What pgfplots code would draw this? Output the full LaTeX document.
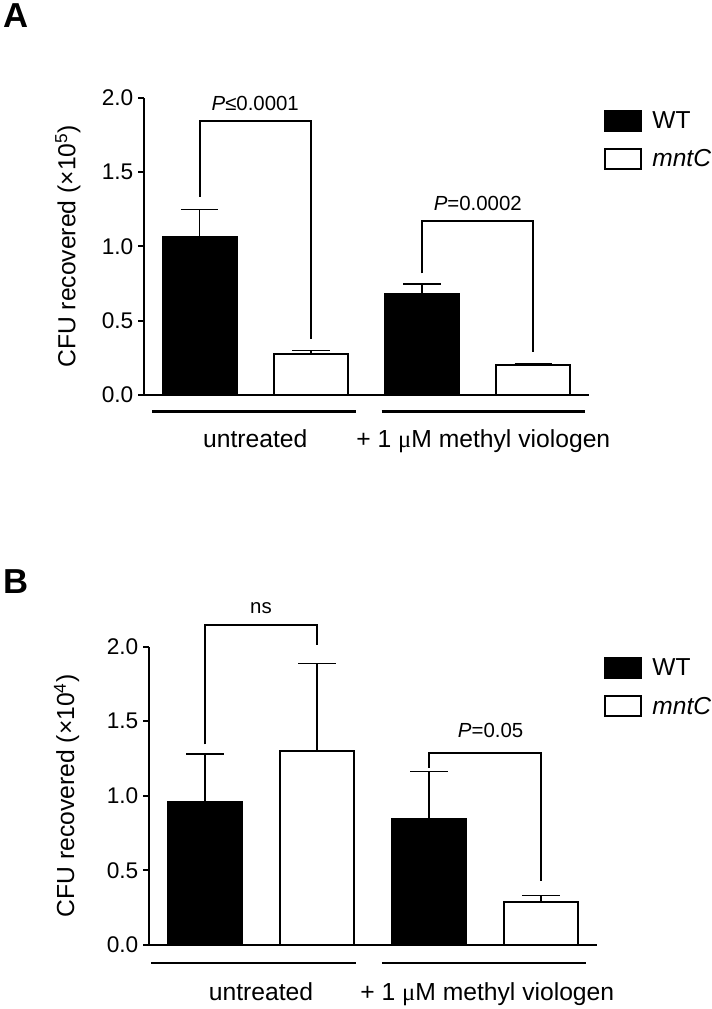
\documentclass[border=0pt]{standalone}
\usepackage{fontspec}
\setmainfont{Liberation Sans}
\newfontfamily\serifmu{Liberation Serif}
\usepackage{pgfplots}
\usepackage{pgfplotstable}
\pgfplotsset{compat=1.18}

\pgfplotstableread{
x y e
1 1.065 0.184
3 0.677 0.069
}\AWT
\pgfplotstableread{
x y e
2 0.276 0.022
4 0.200 0.013
}\AmntC
\pgfplotstableread{
x y e
1 0.956 0.324
3 0.845 0.317
}\BWT
\pgfplotstableread{
x y e
2 1.300 0.588
4 0.290 0.040
}\BmntC

\pgfplotsset{
  panel/.style={
    scale only axis,
    axis x line=bottom, axis y line=left,
    axis line style={-, line width=1.5pt},
    xmin=0.5, xmax=4.5, ymin=0, ymax=2,
    xtick=\empty,
    ytick={0,0.5,1,1.5,2},
    /pgf/number format/fixed, /pgf/number format/fixed zerofill,
    /pgf/number format/precision=1, /pgf/number format/assume math mode=true,
    yticklabel style={font=\fontsize{17}{20}\selectfont},
    tick align=outside, major tick length=4.5pt,
    every tick/.style={black, line width=1.5pt},
    clip=false,
    ybar, bar width=55.5pt,
    legend cell align=left,
    legend image code/.code={\draw[#1, line width=1.5pt] (0pt,-7.5pt) rectangle (27pt,7.5pt);},
    legend style={draw=none, fill=none, anchor=north west, inner sep=0pt,
      font=\fontsize{18.4}{22}\selectfont, row sep=12pt, column sep=7.5pt,
      nodes={inner sep=0pt}},
  },
  wt/.style={fill=black, draw=black, line width=1.5pt, bar shift=0pt,
    error bars/.cd, y dir=plus, y explicit,
    error bar style={line width=1pt, black},
    error mark options={rotate=90, line width=1pt, mark size=14pt, black}},
  mt/.style={fill=white, draw=black, line width=1.5pt, bar shift=0pt,
    error bars/.cd, y dir=plus, y explicit,
    error bar style={line width=1pt, black},
    error mark options={rotate=90, line width=1pt, mark size=14pt, black}},
}

\begin{document}
\begin{tikzpicture}
\useasboundingbox (0,0) rectangle (711*0.75pt,-1009*0.75pt);
\node[anchor=base west, font=\bfseries\fontsize{26}{30}\selectfont, inner sep=0pt] at (3*0.75pt,-28*0.75pt) {A};
\node[anchor=base west, font=\bfseries\fontsize{26}{30}\selectfont, inner sep=0pt] at (3*0.75pt,-593*0.75pt) {B};

% ---------------- Panel A
\begin{axis}[panel, width=333.75pt, height=223pt, at={(144*0.75pt,-395*0.75pt)}, anchor=south west,
  ylabel={CFU recovered (×10\textsuperscript{5})},
  every axis y label/.style={at={(axis description cs:-0.171,0.5)}, rotate=90, anchor=center, font=\fontsize{18.5}{22}\selectfont},
  legend style={at={(axis description cs:1.034,0.959)}}]
\addplot[wt] table[x=x, y=y, y error=e] {\AWT};
\addlegendentry{WT}
\addplot[mt] table[x=x, y=y, y error=e] {\AmntC};
\addlegendentry{\textit{mntC}}
\draw[line width=1.5pt] (axis cs:1,1.334) -- (axis cs:1,1.843) -- (axis cs:2,1.843) -- (axis cs:2,0.377);
\node[anchor=base, inner sep=0pt, font=\fontsize{15.3}{18}\selectfont] at (axis cs:1.5,1.917) {\textit{P}≤0.0001};
\draw[line width=1.5pt] (axis cs:3,0.818) -- (axis cs:3,1.17) -- (axis cs:4,1.17) -- (axis cs:4,0.291);
\node[anchor=base, inner sep=0pt, font=\fontsize{15.3}{18}\selectfont] at (axis cs:3.5,1.244) {\textit{P}=0.0002};
\draw[line width=2pt] (axis cs:0.572,-0.112) -- (axis cs:2.406,-0.112);
\draw[line width=2pt] (axis cs:2.637,-0.112) -- (axis cs:4.464,-0.112);
\node[anchor=base, inner sep=0pt, font=\fontsize{18.5}{22}\selectfont] at (axis cs:1.5,-0.35) {untreated};
\node[anchor=base, inner sep=0pt, font=\fontsize{18.5}{22}\selectfont] at (axis cs:3.55,-0.35) {+ 1 {\serifmu μ}M methyl viologen};
\end{axis}

% ---------------- Panel B
\begin{axis}[panel, width=336pt, height=223.7pt, at={(149*0.75pt,-945*0.75pt)}, anchor=south west,
  ylabel={CFU recovered (×10\textsuperscript{4})},
  every axis y label/.style={at={(axis description cs:-0.184,0.5)}, rotate=90, anchor=center, font=\fontsize{18.5}{22}\selectfont},
  legend style={at={(axis description cs:1.016,0.965)}}]
\addplot[wt] table[x=x, y=y, y error=e] {\BWT};
\addlegendentry{WT}
\addplot[mt] table[x=x, y=y, y error=e] {\BmntC};
\addlegendentry{\textit{mntC}}
\draw[line width=1.5pt] (axis cs:1,1.345) -- (axis cs:1,2.145) -- (axis cs:2,2.145) -- (axis cs:2,2.015);
\node[anchor=base, inner sep=0pt, font=\fontsize{15.3}{18}\selectfont] at (axis cs:1.5,2.225) {ns};
\draw[line width=1.5pt] (axis cs:3,1.19) -- (axis cs:3,1.285) -- (axis cs:4,1.285) -- (axis cs:4,0.43);
\node[anchor=base, inner sep=0pt, font=\fontsize{15.3}{18}\selectfont] at (axis cs:3.55,1.394) {\textit{P}=0.05};
\draw[line width=2pt] (axis cs:0.52,-0.12) -- (axis cs:2.35,-0.12);
\draw[line width=2pt] (axis cs:2.58,-0.12) -- (axis cs:4.4,-0.12);
\node[anchor=base, inner sep=0pt, font=\fontsize{18.5}{22}\selectfont] at (axis cs:1.5,-0.375) {untreated};
\node[anchor=base, inner sep=0pt, font=\fontsize{18.5}{22}\selectfont] at (axis cs:3.52,-0.375) {+ 1 {\serifmu μ}M methyl viologen};
\end{axis}
\end{tikzpicture}
\end{document}
